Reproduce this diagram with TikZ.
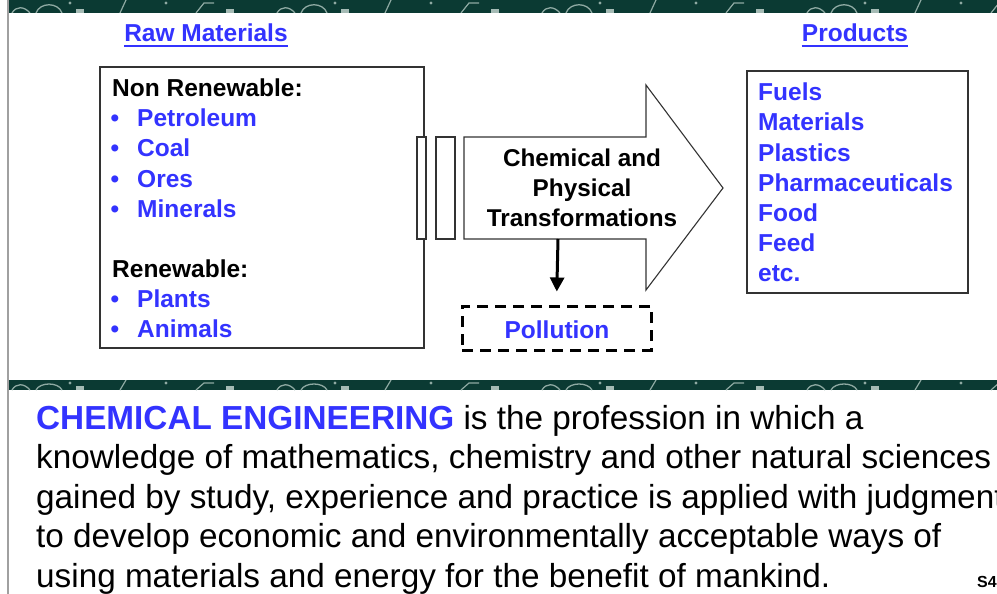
\documentclass[tikz,border=0pt]{standalone}
\usepackage{fontspec}
\setmainfont{Liberation Sans}
\usetikzlibrary{arrows.meta}
\definecolor{inkblue}{HTML}{3333FF}
\definecolor{bandgreen}{HTML}{0B3A33}
\definecolor{bandmark}{HTML}{8FAAA3}
\definecolor{framegray}{HTML}{333333}
\definecolor{rulegray}{HTML}{A0A0A0}

\begin{document}
\begin{tikzpicture}[x=1pt, y=-1pt,
    every node/.style={inner sep=0pt, font=\bfseries\fontsize{24.5}{24.5}\selectfont},
    head/.style={text=inkblue, anchor=base},
    item/.style={text=inkblue, anchor=base west},
    sectcap/.style={text=black, anchor=base west},
    frame/.style={draw=framegray, line width=1.1pt},
    body/.style={anchor=base west, font=\fontsize{33.3}{33.3}\selectfont},
]
\useasboundingbox (0,0) rectangle (997,594);
\fill[white] (0,0) rectangle (997,594);

% ---------------- green bands
\foreach \y/\h in {0/13, 380/10}{
    \begin{scope}
    \clip (9,\y) rectangle (997,\y+\h);
    \fill[bandgreen] (0,\y) rectangle (997,\y+\h);
    \foreach \p in {0,265,530,795}{
        \draw[bandmark, line width=1.3pt] (\p+12,\y+\h) .. controls (\p+16,\y+\h-7) and (\p+24,\y+\h-7) .. (\p+30,\y+\h);
        \draw[bandmark, line width=1.3pt] (\p+36,\y+\h) .. controls (\p+40,\y+2) and (\p+58,\y+2) .. (\p+62,\y+\h);
        \fill[bandmark] (\p+70,\y+3) circle (1.6pt);
        \fill[bandmark!80] (\p+76,\y+\h-4) rectangle (\p+84,\y+\h);
        \draw[bandmark, line width=1.2pt] (\p+120,\y+\h) -- (\p+126,\y);
        \fill[bandmark] (\p+166,\y+3) circle (1.6pt);
        \draw[bandmark, line width=1.2pt] (\p+196,\y+\h) -- (\p+204,\y+3) -- (\p+214,\y+3);
        \fill[bandmark!80] (\p+226,\y+\h-4) rectangle (\p+234,\y+\h);
    }
    \end{scope}
}
\draw[rulegray, line width=1.4pt] (8,0) -- (8,594);

% ---------------- titles
\node[head] (rawtitle) at (206,42) {Raw Materials};
\node[head] (prodtitle) at (855,42) {Products};
\foreach \t in {rawtitle, prodtitle}{
    \draw[inkblue, line width=2.5pt] ([yshift=-4pt]\t.base west) -- ([yshift=-4pt]\t.base east);
}

% ---------------- raw materials box
\node[frame, minimum width=324pt, minimum height=281pt] (rawbox) at (262,207.5) {};
\node[sectcap] (nonrenew) at (112,97) {Non Renewable:};
\foreach \t [count=\i from 0] in {Petroleum, Coal, Ores, Minerals}{
    \node[item] (nr\i) at (137,127+30*\i) {\t};
    \node[item] (nrb\i) at (110.5,127+30*\i) {\textbullet};
}
\node[sectcap] (renew) at (112,277) {Renewable:};
\foreach \t [count=\i from 0] in {Plants, Animals}{
    \node[item] (re\i) at (137,307+30*\i) {\t};
    \node[item] (reb\i) at (110.5,307+30*\i) {\textbullet};
}

% ---------------- feed bars and big arrow
\node[frame, fill=white, minimum width=9pt, minimum height=102pt] (barone) at (421.5,188) {};
\node[frame, fill=white, minimum width=19pt, minimum height=102pt] (bartwo) at (445.5,188) {};
\draw[frame, fill=white] (464,137) -- (646,137) -- (646,85) -- (723,188)
    -- (646,290) -- (646,239) -- (464,239) -- cycle;
\coordinate (shaftbot) at (558,239);
\node[align=center, font=\bfseries\fontsize{24.3}{30}\selectfont] (chemtext) at (582,188)
    {Chemical and\\Physical\\Transformations};

% ---------------- pollution
\node[draw=black, line width=3pt, dash pattern=on 11pt off 7pt,
      minimum width=189pt, minimum height=44pt] (pollbox) at (556.5,328) {};
\node[head] (polltext) at (557,338) {Pollution};
\draw[line width=3pt, -{Triangle[length=14pt, width=14pt]}, shorten >=13pt]
    (shaftbot) -- (pollbox.north);

% ---------------- products box
\node[frame, minimum width=221pt, minimum height=222pt] (prodbox) at (857.5,182) {};
\foreach \t [count=\i from 0] in {Fuels, Materials, Plastics, Pharmaceuticals, Food, Feed, etc.}{
    \node[item] (pr\i) at (758,101+30*\i) {\t};
}

% ---------------- definition text
\node[body] (def0) at (36,429) {\textcolor{inkblue}{\bfseries CHEMICAL ENGINEERING} is the profession in which a};
\foreach \t [count=\i from 1] in {knowledge of mathematics{,} chemistry and other natural sciences,
    gained by study{,} experience and practice is applied with judgment,
    to develop economic and environmentally acceptable ways of,
    using materials and energy for the benefit of mankind.}{
    \node[body] (def\i) at (36,429+39.5*\i) {\t};
}
\node[anchor=base west, font=\bfseries\fontsize{16}{16}\selectfont] (slideno) at (977,587) {S4};
\end{tikzpicture}
\end{document}
